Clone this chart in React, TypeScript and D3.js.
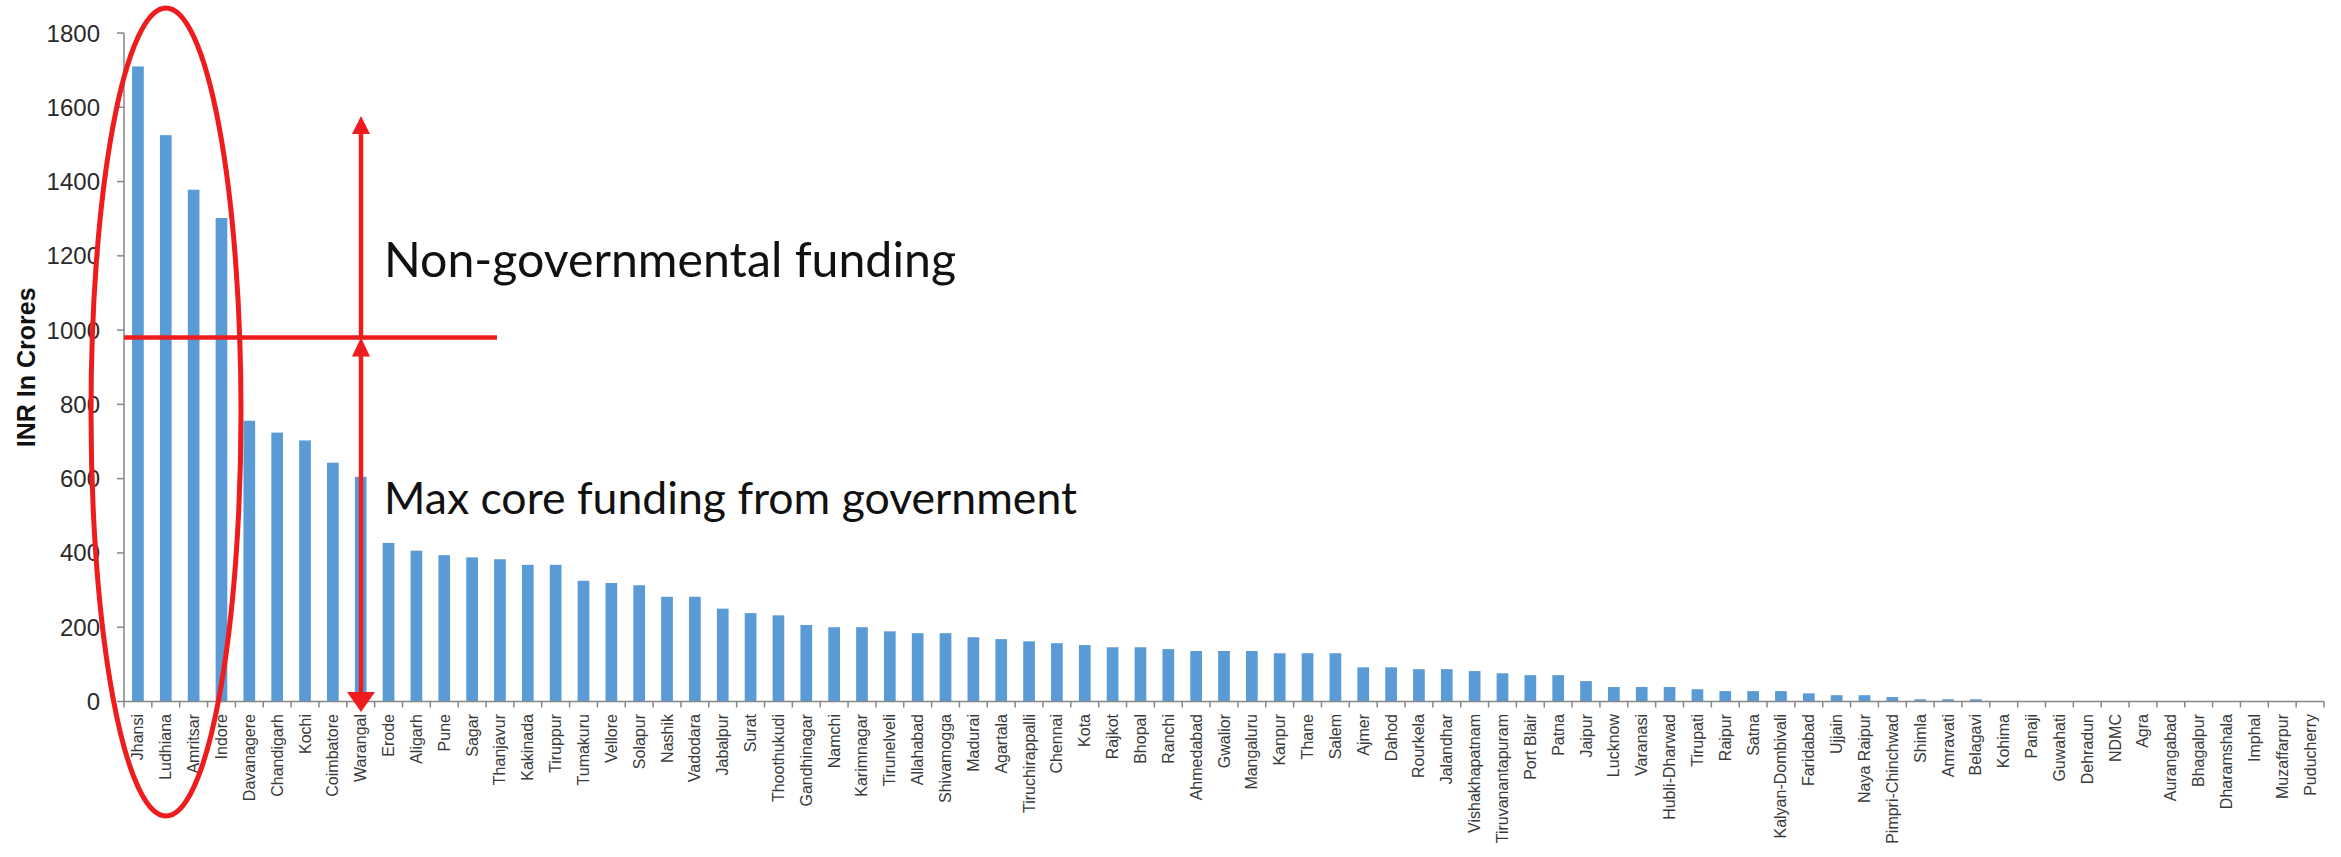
import React, { useEffect, useRef } from "react";
import * as d3 from "d3";

const cities: string[] = [
  "Jhansi", "Ludhiana", "Amritsar", "Indore", "Davanagere", "Chandigarh", "Kochi", "Coimbatore", "Warangal", "Erode",
  "Aligarh", "Pune", "Sagar", "Thanjavur", "Kakinada", "Tiruppur", "Tumakuru", "Vellore", "Solapur", "Nashik",
  "Vadodara", "Jabalpur", "Surat", "Thoothukudi", "Gandhinagar", "Namchi", "Karimnagar", "Tirunelveli", "Allahabad", "Shivamogga",
  "Madurai", "Agartala", "Tiruchirappalli", "Chennai", "Kota", "Rajkot", "Bhopal", "Ranchi", "Ahmedabad", "Gwalior",
  "Mangaluru", "Kanpur", "Thane", "Salem", "Ajmer", "Dahod", "Rourkela", "Jalandhar", "Vishakhapatnam", "Tiruvanantapuram",
  "Port Blair", "Patna", "Jaipur", "Lucknow", "Varanasi", "Hubli-Dharwad", "Tirupati", "Raipur", "Satna", "Kalyan-Dombivali",
  "Faridabad", "Ujjain", "Naya Raipur", "Pimpri-Chinchwad", "Shimla", "Amravati", "Belagavi", "Kohima", "Panaji", "Guwahati",
  "Dehradun", "NDMC", "Agra", "Aurangabad", "Bhagalpur", "Dharamshala", "Imphal", "Muzaffarpur", "Puducherry",
];

const funding: number[] = [
  1710, 1525, 1378, 1302, 756, 724, 703, 643, 605, 427,
  406, 394, 388, 383, 368, 368, 325, 319, 313, 282,
  282, 250, 238, 232, 206, 200, 200, 189, 184, 184,
  173, 168, 162, 157, 152, 146, 146, 141, 136, 136,
  136, 130, 130, 130, 92, 92, 87, 87, 82, 76,
  71, 71, 55, 39, 39, 39, 33, 28, 28, 28,
  22, 17, 17, 12, 6, 6, 6, 0, 0, 0,
  0, 0, 0, 0, 0, 0, 0, 0, 0,
];

const yTicks: number[] = [0, 200, 400, 600, 800, 1000, 1200, 1400, 1600, 1800];
const yTitle = "INR In Crores";
const noteUpper = "Non-governmental funding";
const noteLower = "Max core funding from government";
const thresholdValue = 980;

const W = 2341;
const H = 857;
const RED = "#ee1c1c";

export default function App() {
  const upperRef = useRef<SVGTextElement>(null);
  const lowerRef = useRef<SVGTextElement>(null);

  const x = d3.scaleBand<string>().domain(cities).range([124, 2324]).paddingInner(0.58).paddingOuter(0.29);
  const y = d3.scaleLinear().domain([0, 1800]).range([701.5, 33]);
  const step = x.step();
  const yThr = y(thresholdValue);
  const arrowX = 361;

  useEffect(() => {
    const fit = (el: SVGTextElement | null, target: number) => {
      if (!el) return;
      el.setAttribute("font-size", "100");
      const w = el.getComputedTextLength();
      if (w > 0) el.setAttribute("font-size", String((100 * target) / w));
    };
    fit(upperRef.current, 572);
    fit(lowerRef.current, 693);
  }, []);

  return (
    <svg
      width={W}
      height={H}
      style={{ position: "absolute", left: 0, top: 0, background: "#fff" }}
      xmlns="http://www.w3.org/2000/svg"
    >
      <rect x={0} y={0} width={W} height={H} fill="#fff" />
      {cities.map((c, i) => (
        <rect
          key={c}
          x={x(c)}
          y={y(funding[i])}
          width={x.bandwidth()}
          height={y(0) - y(funding[i])}
          fill="#5b9bd5"
        />
      ))}
      <line x1={124} x2={124} y1={y(1800)} y2={y(0)} stroke="#868686" strokeWidth={1.5} />
      {yTicks.map((t) => (
        <g key={t}>
          <line x1={117} x2={124} y1={y(t)} y2={y(t)} stroke="#868686" strokeWidth={1.5} />
          <text
            x={100}
            y={y(t)}
            textAnchor="end"
            dominantBaseline="central"
            fontFamily="'Liberation Sans', Arial, sans-serif"
            fontSize={24}
            fill="#2a2a2a"
          >
            {t}
          </text>
        </g>
      ))}
      <text
        transform={`translate(26, ${(y(0) + y(1800)) / 2}) rotate(-90)`}
        textAnchor="middle"
        dominantBaseline="central"
        fontFamily="'Liberation Sans', Arial, sans-serif"
        fontWeight="bold"
        fontSize={25}
        fill="#111"
      >
        {yTitle}
      </text>
      <line x1={124} x2={2324} y1={y(0)} y2={y(0)} stroke="#868686" strokeWidth={1.5} />
      {d3.range(cities.length + 1).map((k) => (
        <line
          key={k}
          x1={124 + k * step}
          x2={124 + k * step}
          y1={y(0)}
          y2={y(0) + 6}
          stroke="#868686"
          strokeWidth={1.5}
        />
      ))}
      {cities.map((c) => (
        <text
          key={c}
          transform={`translate(${(x(c) as number) + x.bandwidth() / 2}, 714) rotate(-90)`}
          textAnchor="end"
          dominantBaseline="central"
          fontFamily="'Liberation Sans', Arial, sans-serif"
          fontSize={16}
          fill="#3a3a3a"
        >
          {c}
        </text>
      ))}
      <ellipse cx={166} cy={412} rx={75} ry={404} fill="none" stroke={RED} strokeWidth={5} />
      <line x1={124} x2={497} y1={yThr} y2={yThr} stroke={RED} strokeWidth={4.5} />
      <line x1={arrowX} x2={arrowX} y1={132} y2={yThr} stroke={RED} strokeWidth={4.5} />
      <path d={`M${arrowX},116 L${arrowX - 9},134 L${arrowX + 9},134 Z`} fill={RED} />
      <line x1={arrowX} x2={arrowX} y1={yThr + 16} y2={y(0) - 6} stroke={RED} strokeWidth={4.5} />
      <path d={`M${arrowX},${yThr} L${arrowX - 9},${yThr + 19} L${arrowX + 9},${yThr + 19} Z`} fill={RED} />
      <path d={`M${arrowX},712 L${arrowX - 14},692 L${arrowX + 14},692 Z`} fill={RED} />
      <text ref={upperRef} x={384} y={277} fontFamily="Lato, 'Open Sans', sans-serif" fontSize={48} fill="#111">
        {noteUpper}
      </text>
      <text ref={lowerRef} x={384} y={514} fontFamily="Lato, 'Open Sans', sans-serif" fontSize={48} fill="#111">
        {noteLower}
      </text>
    </svg>
  );
}
